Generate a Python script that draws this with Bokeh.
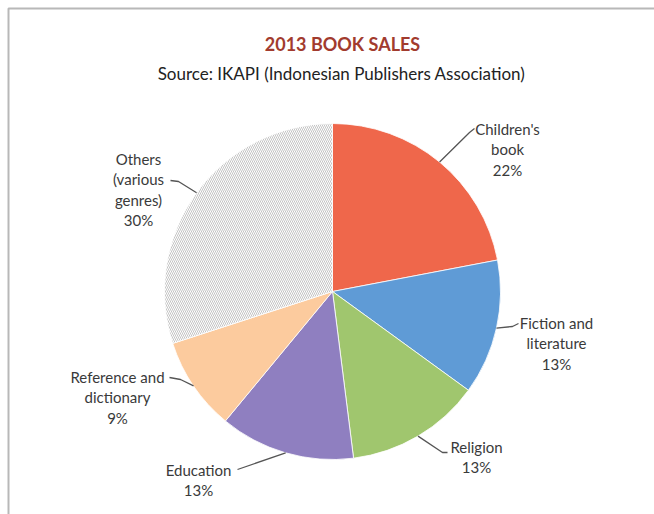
import math
from bokeh.plotting import figure
from bokeh.models import Range1d
from bokeh.core.properties import value
from bokeh.embed import file_html
from bokeh.resources import INLINE

# ---- data ----
categories = ["Children's book", "Fiction and literature", "Religion",
              "Education", "Reference and dictionary", "Others (various genres)"]
shares = [22, 13, 13, 13, 9, 30]
label_lines = [["Children's", "book", "22%"],
               ["Fiction and", "literature", "13%"],
               ["Religion", "13%"],
               ["Education", "13%"],
               ["Reference and", "dictionary", "9%"],
               ["Others", "(various", "genres)", "30%"]]

# ---- style / layout ----
W, H = 654, 514
colors = ["#EF674B", "#5F9BD6", "#A0C66E", "#8F7FC0", "#FCCB9E", "#FFFFFF"]
hatches = [None, None, None, None, None, "\\"]
CX, CY, R = 332, H - 291, 168
FONT = "Lato"
TXT = "#3A3A3A"
LINE = "#555555"
# label block anchor (x center, y of first line in pixel coords) and elbow points (pixels)
label_pos = [(507, 128), (556, 322), (476, 446), (198, 469), (117, 376), (138, 158)]
elbows = [[(469, 132), (474, 128)],
          [(512, 326), (518, 323)],
          [(442, 452), (447, 452)],
          [(237, 469)],
          [(180, 379), (169, 377)],
          [(178, 181), (170, 180)]]
LH = 20.5

p = figure(width=W, height=H, output_backend="svg", toolbar_location=None,
           x_range=Range1d(0, W), y_range=Range1d(0, H), min_border=0)
p.axis.visible = False
p.grid.visible = False
p.outline_line_color = None
p.background_fill_color = "white"
p.border_fill_color = "white"

# frame
p.line([8, 8, W + 5], [-5, H - 8, H - 8], line_color="#B8B8B8", line_width=2)

total = float(sum(shares))
cum = 0.0
starts, ends, mids = [], [], []
for s in shares:
    a0 = math.pi / 2 - 2 * math.pi * cum / total
    cum += s
    a1 = math.pi / 2 - 2 * math.pi * cum / total
    starts.append(a0); ends.append(a1); mids.append((a0 + a1) / 2)

for i in range(len(shares)):
    kw = {}
    if hatches[i]:
        kw = dict(hatch_pattern=hatches[i], hatch_color="#C4C4C4", hatch_scale=4, hatch_weight=1)
    p.wedge(x=CX, y=CY, radius=R, start_angle=starts[i], end_angle=ends[i],
            direction="clock", fill_color=colors[i], line_color="white", line_width=0.8, **kw)

# leader lines
for i, m in enumerate(mids):
    xs = [CX + R * math.cos(m)]
    ys = [CY + R * math.sin(m)]
    for (ex, ey) in elbows[i]:
        xs.append(ex); ys.append(H - ey)
    p.line(xs, ys, line_color=LINE, line_width=1.3)

# labels
tx, ty, tt = [], [], []
for i, lines in enumerate(label_lines):
    x0, y0 = label_pos[i]
    for j, t in enumerate(lines):
        tx.append(x0); ty.append(H - (y0 + j * LH)); tt.append(t)
p.text(x=tx, y=ty, text=tt, text_font=value(FONT), text_font_size="15px",
       text_color=TXT, text_align="center", text_baseline="middle")

# titles
p.text(x=[342], y=[H - 43], text=["2013 BOOK SALES"], text_font=value(FONT),
       text_font_size="18px", text_font_style="bold", text_color="#A23B2E",
       text_align="center", text_baseline="middle")
p.text(x=[341], y=[H - 73], text=["Source: IKAPI (Indonesian Publishers Association)"],
       text_font=value(FONT), text_font_size="17px", text_color="#222222",
       text_align="center", text_baseline="middle")

open("out.html", "w").write(file_html(p, INLINE))
